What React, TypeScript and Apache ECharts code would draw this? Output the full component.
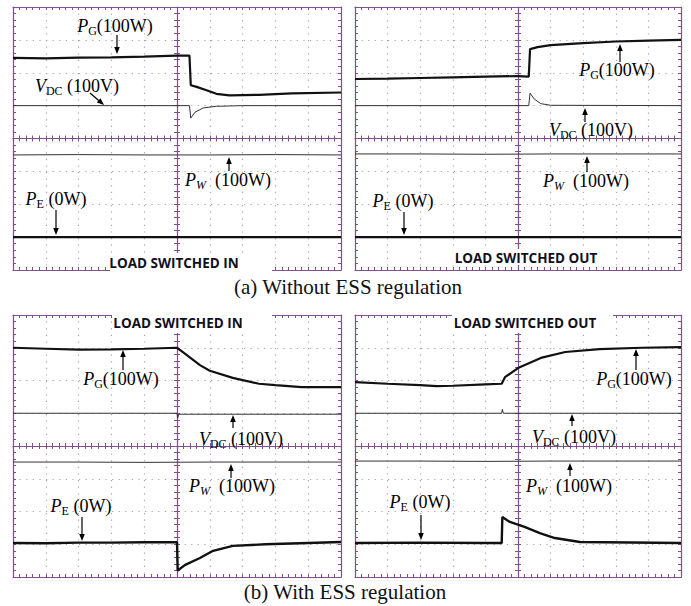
import React, { useEffect, useRef } from "react";
import * as echarts from "echarts";

// ---------- data (divisions: x -5..5, y -4..4) ----------
// (a) Without ESS regulation — load switched in
const a1_PG: number[][] = [[-5, 2.45], [-4, 2.44], [-3, 2.46], [-2, 2.47], [-1, 2.49], [0, 2.52], [0.38, 2.52], [0.42, 1.62], [0.6, 1.57], [0.9, 1.47], [1.2, 1.36], [1.6, 1.31], [2.5, 1.33], [3.5, 1.37], [5, 1.4]];
const a1_VDC: number[][] = [[-5, 1.0], [-2, 1.0], [0.38, 1.0], [0.42, 0.62], [0.55, 0.8], [0.8, 0.93], [1.2, 0.98], [2, 1.0], [5, 1.0]];
const a1_PW: number[][] = [[-5, -0.5], [-3, -0.49], [-1, -0.5], [1, -0.5], [3, -0.49], [5, -0.5]];
const a1_PE: number[][] = [[-5, -3.0], [-2.5, -3.0], [0, -3.0], [2.5, -3.0], [5, -3.0]];
// (a) Without ESS regulation — load switched out
const a2_PG: number[][] = [[-5, 1.81], [-4, 1.82], [-3, 1.84], [-2, 1.86], [-1, 1.88], [0, 1.9], [0.33, 1.88], [0.37, 2.72], [0.6, 2.78], [1, 2.84], [2, 2.9], [3, 2.95], [4, 2.98], [5, 3.0]];
const a2_VDC: number[][] = [[-5, 1.0], [-2, 1.0], [0.33, 1.0], [0.37, 1.38], [0.5, 1.2], [0.7, 1.06], [1, 1.01], [5, 1.0]];
const a2_PW: number[][] = [[-5, -0.47], [-3, -0.47], [-1, -0.48], [1, -0.47], [3, -0.47], [5, -0.47]];
const a2_PE: number[][] = [[-5, -3.0], [-2.5, -3.0], [0, -3.0], [2.5, -3.0], [5, -3.0]];
// (b) With ESS regulation — load switched in
const b1_PG: number[][] = [[-5, 3.0], [-4, 2.97], [-3, 2.94], [-2, 2.95], [-1, 2.97], [0, 3.0], [0.2, 2.85], [0.7, 2.47], [1.0, 2.3], [1.7, 2.08], [2.5, 1.9], [3.0, 1.86], [3.8, 1.8], [5, 1.8]];
const b1_VDC: number[][] = [[-5, 1.0], [-2, 1.0], [0, 1.0], [0.02, 0.85], [0.05, 0.97], [2, 0.97], [5, 0.97]];
const b1_PW: number[][] = [[-5, -0.49], [-3, -0.49], [-1, -0.5], [1, -0.49], [3, -0.49], [5, -0.49]];
const b1_PE: number[][] = [[-5, -2.96], [-4, -2.97], [-3, -2.95], [-2, -2.95], [-1, -2.94], [0, -2.94], [0.02, -3.8], [0.25, -3.63], [0.7, -3.42], [1.1, -3.2], [1.7, -3.05], [2.7, -3.0], [4, -2.96], [5, -2.93]];
// (b) With ESS regulation — load switched out
const b2_PG: number[][] = [[-5, 1.95], [-4, 1.9], [-3, 1.86], [-2.5, 1.83], [-2, 1.84], [-1, 1.88], [-0.5, 1.9], [-0.4, 2.1], [0, 2.38], [0.7, 2.69], [1.45, 2.87], [2.5, 2.96], [3.8, 3.0], [5, 3.02]];
const b2_VDC: number[][] = [[-5, 1.0], [-0.5, 1.0], [-0.48, 1.12], [-0.45, 1.0], [5, 1.0]];
const b2_PW: number[][] = [[-5, -0.46], [-3, -0.46], [-1, -0.47], [1, -0.46], [3, -0.46], [5, -0.46]];
const b2_PE: number[][] = [[-5, -2.96], [-3, -2.95], [-1, -2.96], [-0.5, -2.96], [-0.48, -2.17], [-0.25, -2.32], [0.2, -2.47], [0.67, -2.66], [1.13, -2.81], [1.9, -2.93], [5, -2.96]];

const panelTitles = ["LOAD SWITCHED IN", "LOAD SWITCHED OUT", "LOAD SWITCHED IN", "LOAD SWITCHED OUT"];
const captions = ["(a) Without ESS regulation", "(b) With ESS regulation"];

const FRAME = "#80508c";
const DOT = "#b49bbb";
const SERIF = "'Liberation Serif', 'Times New Roman', serif";

const grids = [
  { left: 13, top: 7, width: 328, height: 263 },
  { left: 355, top: 7, width: 326, height: 263 },
  { left: 13, top: 315, width: 328, height: 262 },
  { left: 355, top: 315, width: 326, height: 262 },
];

const panelData = [
  [a1_PG, a1_VDC, a1_PW, a1_PE],
  [a2_PG, a2_VDC, a2_PW, a2_PE],
  [b1_PG, b1_VDC, b1_PW, b1_PE],
  [b2_PG, b2_VDC, b2_PW, b2_PE],
];

// annotation layout (pixels)
const labelTexts: Record<string, string> = {
  PG: "{i|P}{s|G}{n|(100W)}",
  VDC: "{i|V}{s|DC}{n| (100V)}",
  PW: "{i|P}{si|W}{n|  (100W)}",
  PE: "{i|P}{s|E}{n| (0W)}",
};
const annotations = [
  [["PG", 115, 27, 117, 35, 117, 54], ["VDC", 77, 87, 90, 93, 104, 105], ["PW", 228, 181, 229, 171, 229, 157], ["PE", 56, 200, 56, 210, 56, 235]],
  [["PG", 617, 71, 620, 62, 620, 44], ["VDC", 591, 131, 585, 122, 585, 108], ["PW", 586, 182, 587, 172, 587, 156], ["PE", 403, 202, 404, 212, 404, 235]],
  [["PG", 121, 380, 123, 370, 123, 350], ["VDC", 241, 440, 233, 428, 233, 415], ["PW", 232, 487, 231, 478, 231, 464], ["PE", 81, 507, 82, 517, 82, 541]],
  [["PG", 634, 380, 636, 370, 636, 349], ["VDC", 574, 438, 572, 426, 572, 414], ["PW", 569, 487, 570, 476, 570, 463], ["PE", 420, 503, 421, 515, 421, 540]],
];
const titleBoxes = [
  { rect: [110, 253, 162, 20], tx: 174, ty: 263 },
  { rect: [450, 249, 150, 16], tx: 526, ty: 258 },
  { rect: [112, 311, 160, 22], tx: 178, ty: 323 },
  { rect: [452, 311, 161, 22], tx: 525, ty: 323 },
];

function arrow(x1: number, y1: number, x2: number, y2: number) {
  const a = Math.atan2(y2 - y1, x2 - x1);
  const L = 7, W = 2.8;
  const bx = x2 - L * Math.cos(a), by = y2 - L * Math.sin(a);
  return [
    { type: "line", shape: { x1, y1, x2: bx, y2: by }, style: { stroke: "#000", lineWidth: 1.2 }, z: 100 },
    {
      type: "polygon",
      shape: { points: [[x2, y2], [bx + W * Math.sin(a), by - W * Math.cos(a)], [bx - W * Math.sin(a), by + W * Math.cos(a)]] },
      style: { fill: "#000" },
      z: 100,
    },
  ];
}

const richStyles = {
  n: { fontSize: 18, fontFamily: SERIF, color: "#111", lineHeight: 20, verticalAlign: "top" },
  i: { fontSize: 18, fontFamily: SERIF, fontStyle: "italic", color: "#111", lineHeight: 20, verticalAlign: "top" },
  s: { fontSize: 12, fontFamily: SERIF, color: "#111", lineHeight: 13, padding: [9, 0, 0, 0], verticalAlign: "bottom" },
  si: { fontSize: 12, fontFamily: SERIF, fontStyle: "italic", color: "#111", lineHeight: 13, padding: [9, 0, 0, 0], verticalAlign: "bottom" },
};

export default function App() {
  const ref = useRef<HTMLDivElement>(null);
  useEffect(() => {
    if (!ref.current) return;
    const chart = echarts.init(ref.current, null, { renderer: "svg" });
    const xAxis: any[] = [];
    const yAxis: any[] = [];
    const series: any[] = [];
    grids.forEach((_, g) => {
      const tick = { show: true, inside: true, length: 3, lineStyle: { color: FRAME, width: 1 } };
      const minor = { show: true, splitNumber: 5, length: 3, lineStyle: { color: FRAME, width: 1 } };
      const line = { show: true, onZero: false, lineStyle: { color: FRAME, width: 1.2 } };
      const base = { gridIndex: g, type: "value", axisLabel: { show: false }, splitLine: { show: false } };
      const dotted = { show: true, lineStyle: { color: DOT, width: 1.2, type: [1.2, 5.4] } };
      xAxis.push({ ...base, min: -5, max: 5, interval: 1, position: "bottom", axisLine: line, axisTick: tick, minorTick: minor, splitLine: dotted });
      xAxis.push({ ...base, min: -5, max: 5, interval: 1, position: "top", axisLine: line, axisTick: tick, minorTick: minor });
      xAxis.push({ ...base, min: -5, max: 5, interval: 1, position: "bottom", axisLine: { ...line, onZero: true, onZeroAxisIndex: 4 * g }, axisTick: tick, minorTick: minor });
      xAxis.push({ ...base, min: -5, max: 5, interval: 1, position: "bottom", axisLine: { show: false, onZero: true, onZeroAxisIndex: 4 * g }, axisTick: { ...tick, inside: false }, minorTick: minor });
      yAxis.push({ ...base, min: -4, max: 4, interval: 1, position: "left", axisLine: line, axisTick: tick, minorTick: minor, splitLine: dotted });
      yAxis.push({ ...base, min: -4, max: 4, interval: 1, position: "right", axisLine: line, axisTick: tick, minorTick: minor });
      yAxis.push({ ...base, min: -4, max: 4, interval: 1, position: "left", axisLine: { ...line, onZero: true, onZeroAxisIndex: 4 * g }, axisTick: tick, minorTick: minor });
      yAxis.push({ ...base, min: -4, max: 4, interval: 1, position: "left", axisLine: { show: false, onZero: true, onZeroAxisIndex: 4 * g }, axisTick: { ...tick, inside: false }, minorTick: minor });
      const names = ["PG", "VDC", "PW", "PE"];
      const widths = [2.2, 1, 1, 2.4];
      panelData[g].forEach((d, k) => {
        series.push({
          type: "line",
          name: names[k],
          xAxisIndex: 4 * g,
          yAxisIndex: 4 * g,
          data: d,
          symbol: "none",
          z: 10,
          lineStyle: { color: k === 1 || k === 2 ? "#333" : "#111", width: widths[k] },
        });
      });
    });

    const graphic: any[] = [];
    titleBoxes.forEach((b, i) => {
      graphic.push({ type: "rect", shape: { x: b.rect[0], y: b.rect[1], width: b.rect[2], height: b.rect[3] }, style: { fill: "#fff" }, z: 50 });
      graphic.push({
        type: "text",
        x: b.tx,
        y: b.ty,
        z: 60,
        style: { text: panelTitles[i], fill: "#10101c", fontFamily: "'Open Sans', sans-serif", fontWeight: "bold", fontSize: 13.5, align: "center", verticalAlign: "middle" },
      });
    });
    annotations.forEach((list) => {
      list.forEach((a: any) => {
        const [kind, lx, ly, x1, y1, x2, y2] = a;
        graphic.push({
          type: "text",
          x: lx,
          y: ly,
          z: 90,
          style: { text: labelTexts[kind], rich: richStyles, align: "center", verticalAlign: "middle" },
        });
        graphic.push(...arrow(x1, y1, x2, y2));
      });
    });
    graphic.push({ type: "text", x: 348, y: 287, style: { text: captions[0], fontFamily: SERIF, fontSize: 21, fill: "#111", align: "center", verticalAlign: "middle" } });
    graphic.push({ type: "text", x: 345, y: 592, style: { text: captions[1], fontFamily: SERIF, fontSize: 21, fill: "#111", align: "center", verticalAlign: "middle" } });

    chart.setOption({
      animation: false,
      backgroundColor: "#fff",
      grid: grids.map((g) => ({ ...g, containLabel: false })),
      xAxis,
      yAxis,
      series,
      graphic,
    });
    return () => chart.dispose();
  }, []);
  return <div ref={ref} style={{ position: "fixed", left: 0, top: 0, width: 691, height: 606, background: "#fff" }} />;
}
